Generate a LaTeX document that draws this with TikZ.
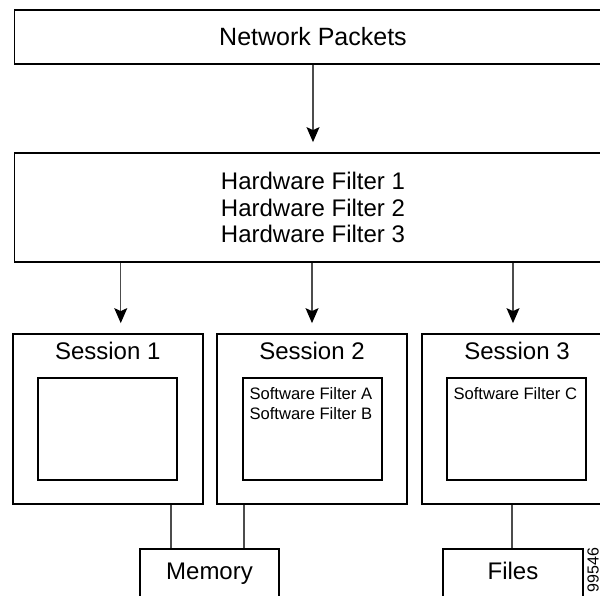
\documentclass[tikz,border=0pt]{standalone}
\usepackage{fontspec}
\setmainfont{Liberation Sans}
\usetikzlibrary{arrows.meta, positioning}

\begin{document}
\begin{tikzpicture}[x=0.5pt, y=-0.5pt,
      box/.style={draw, line width=0.9pt, minimum width=298.5pt, inner sep=0pt, align=center, font=\fontsize{12}{13.3}\selectfont},
      sess/.style={draw, line width=0.9pt, minimum width=95pt, minimum height=85pt, inner sep=0pt},
      filtbox/.style={draw, line width=0.9pt, minimum width=69.5pt, minimum height=51pt, inner sep=0pt},
      ttl/.style={inner sep=0pt, font=\fontsize{12}{14}\selectfont},
      soft/.style={inner sep=0pt, anchor=north west, align=left, font=\fontsize{8.3}{10}\selectfont},
      store/.style={draw, line width=0.9pt, minimum width=69.5pt, minimum height=24pt, inner sep=0pt, text height=8.6pt, text depth=2.6pt, font=\fontsize{12}{14}\selectfont},
      arr/.style={-{Stealth[length=7.5pt, width=6.5pt, inset=1.5pt, black]}, draw=black!70, line width=0.6pt, shorten >=5pt},
      link/.style={draw=black!70, line width=0.6pt},
    ]
    \clip (0,0) rectangle (600,595);

    \node[box, minimum height=27pt, font=\fontsize{12.5}{14}\selectfont] (net_pkts) at (313,37) {Network Packets};
    \node[box, minimum height=54.5pt] (hw_filt) at (313,207.5) {Hardware Filter 1\\Hardware Filter 2\\Hardware Filter 3};

    \node[sess] (sess_1) at (107.75,419) {};
    \node[sess] (sess_2) at (312,419) {};
    \node[sess] (sess_3) at (517,419) {};

    \node[ttl, below=4.5pt of sess_1.north] (ttl_1) {Session 1};
    \node[ttl, below=4.5pt of sess_2.north] (ttl_2) {Session 2};
    \node[ttl, below=4.5pt of sess_3.north] (ttl_3) {Session 3};

    \node[filtbox] (filt_1) at (107.5,429) {};
    \node[filtbox] (filt_2) at (312.5,429) {};
    \node[filtbox] (filt_3) at (516.5,429) {};

    \node[soft] (soft_2) at ([shift={(3.5pt,-5pt)}]filt_2.north west) {Software Filter A\\Software Filter B};
    \node[soft] (soft_3) at ([shift={(3.5pt,-5pt)}]filt_3.north west) {Software Filter C};

    \node[store] (mem) at (209.5,573) {Memory};
    \node[store, minimum width=70pt] (files) at (513,573) {Files};

    \node[rotate=90, inner sep=0pt, font=\fontsize{8}{8}\selectfont] (fig_id) at (593,570) {99546};

    \draw[arr] (net_pkts.south) -- (hw_filt.north);
    \draw[arr] ([xshift=6.5pt]sess_1.north |- hw_filt.south) -- ([xshift=6.5pt]sess_1.north);
    \draw[arr] (hw_filt.south -| sess_2.north) -- (sess_2.north);
    \draw[arr] ([xshift=-2pt]sess_3.north |- hw_filt.south) -- ([xshift=-2pt]sess_3.north);

    \draw[link] ([xshift=-19.25pt]mem.north) -- ([xshift=-19.25pt]mem.north |- sess_1.south);
    \draw[link] ([xshift=17.25pt]mem.north) -- ([xshift=17.25pt]mem.north |- sess_2.south);
    \draw[link] ([xshift=-0.5pt]files.north) -- ([xshift=-0.5pt]files.north |- sess_3.south);
  \end{tikzpicture}
\end{document}
